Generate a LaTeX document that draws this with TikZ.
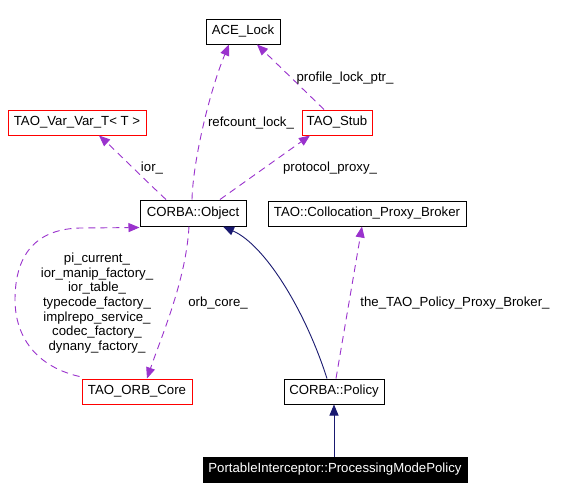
\documentclass[tikz,border=0pt]{standalone}
\usepackage{fontspec}
\setmainfont{Liberation Sans}
\usetikzlibrary{arrows.meta,calc}
\definecolor{edgepurple}{HTML}{9A32CD}
\definecolor{edgenavy}{HTML}{191970}
\begin{document}
\begin{tikzpicture}[x=1pt,y=-1pt,
  font=\fontsize{13.2}{14.67}\selectfont,
  box/.style={draw=black,line width=1pt,minimum height=25pt,inner sep=0pt,anchor=center},
  redbox/.style={box,draw=red},
  usage/.style={draw=edgepurple,line width=0.9pt,dash pattern=on 7pt off 5pt,
    -{Triangle[length=11pt,width=9pt,fill=edgepurple]}},
  inherit/.style={draw=edgenavy,line width=0.9pt,
    -{Triangle[length=11pt,width=9pt,fill=edgenavy]}},
  lbl/.style={inner sep=0pt,align=center}]
\useasboundingbox (0,0) rectangle (566,499);
\fill[white] (0,0) rectangle (566,499);
% nodes
\node[box,minimum width=74pt] (ace) at (243,31.5) {ACE\_Lock};
\node[redbox,minimum width=138pt] (var) at (77,122.5) {TAO\_Var\_Var\_T< T >};
\node[redbox,minimum width=70pt] (stub) at (337,122.5) {TAO\_Stub};
\node[box,minimum width=106pt,minimum height=26pt] (obj) at (193,213) {CORBA::Object};
\node[box,minimum width=198pt] (broker) at (367,213.5) {TAO::Collocation\_Proxy\_Broker};
\node[redbox,minimum width=110pt] (orb) at (137,391.5) {TAO\_ORB\_Core};
\node[box,minimum width=100pt] (policy) at (334,391.5) {CORBA::Policy};
\node[box,fill=black,text=white,minimum width=264pt] (pi) at (335,469.5) {PortableInterceptor::ProcessingModePolicy};
% edges
\draw[usage] ($(obj.north)+(-1,0)$) .. controls (193,160) and (210,90) .. ($(ace.south)+(-14,0)$);
\node[lbl] (l1) at (251,123) {refcount\_lock\_};
\draw[usage] ($(stub.north)+(-13,0)$) -- ($(ace.south)+(14,0)$);
\node[lbl] (l2) at (345,78) {profile\_lock\_ptr\_};
\draw[usage] ($(obj.north)+(-27,0)$) .. controls (145,180) and (115,150) .. ($(var.south)+(22,0)$);
\node[lbl] (l3) at (152,168) {ior\_};
\draw[usage] ($(obj.north)+(27,0)$) -- ($(stub.south)+(-27,0)$);
\node[lbl] (l4) at (330,168) {protocol\_proxy\_};
\draw[usage] ($(orb.north west)+(-2,-2)$) .. controls (30,365) and (15,330) .. (15,300)
  .. controls (15,250) and (40,229) .. (80,228) -- ($(obj.south west)+(0,1)$);
\node[lbl] (l5) at (97,303) {pi\_current\_\\ior\_manip\_factory\_\\ior\_table\_\\typecode\_factory\_\\implrepo\_service\_\\codec\_factory\_\\dynany\_factory\_};
\draw[usage] ($(obj.south)+(-4,0)$) .. controls (186,280) and (162,335) .. ($(orb.north)+(10,0)$);
\node[lbl] (l6) at (218,303) {orb\_core\_};
\draw[inherit] ($(policy.north)+(-7,0)$) .. controls (305,310) and (265,245) .. ($(obj.south)+(30,0)$);
\draw[usage] ($(policy.north)+(2,0)$) -- ($(broker.south)+(-5,0)$);
\node[lbl] (l7) at (455,303) {the\_TAO\_Policy\_Proxy\_Broker\_};
\draw[inherit] (pi.north -| policy.south) -- (policy.south);
\end{tikzpicture}
\end{document}
